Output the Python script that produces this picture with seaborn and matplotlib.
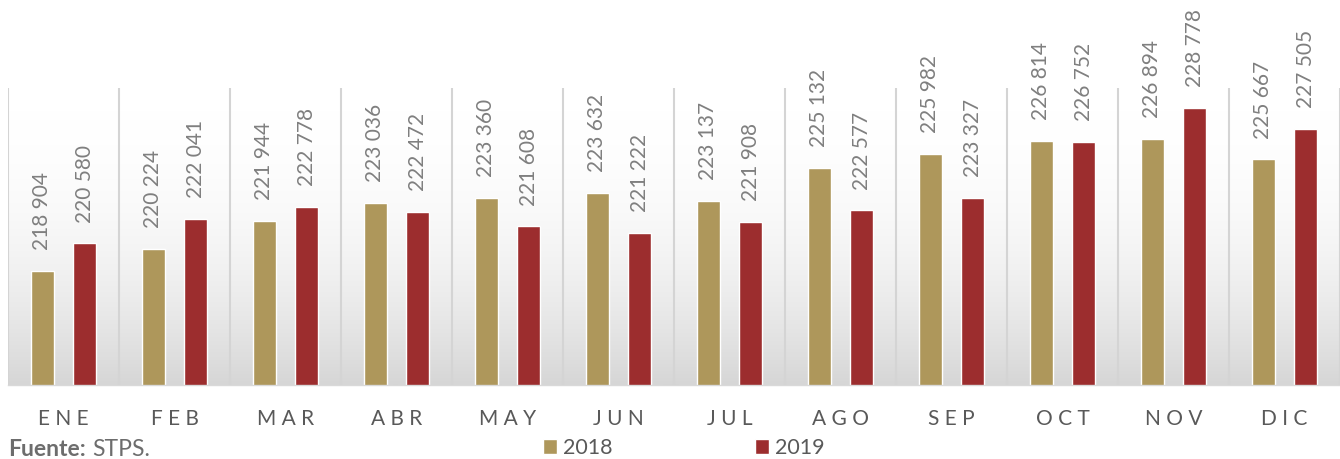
import numpy as np
import pandas as pd
import matplotlib
matplotlib.use("Agg")
import matplotlib.pyplot as plt
import seaborn as sns

months = ["ENE", "FEB", "MAR", "ABR", "MAY", "JUN", "JUL", "AGO", "SEP", "OCT", "NOV", "DIC"]
v2018 = [218904, 220224, 221944, 223036, 223360, 223632, 223137, 225132, 225982, 226814, 226894, 225667]
v2019 = [220580, 222041, 222778, 222472, 221608, 221222, 221908, 222577, 223327, 226752, 228778, 227505]
years = ["2018", "2019"]
colors = ["#AE975B", "#9C2D2E"]

df = pd.DataFrame({
    "mes": months * 2,
    "valor": v2018 + v2019,
    "anio": [years[0]] * 12 + [years[1]] * 12,
})

sns.set_theme(style="white")
plt.rcParams["font.family"] = ["Lato", "DejaVu Sans"]

fig = plt.figure(figsize=(13.4, 4.59), dpi=100)
ax = fig.add_axes([8 / 1340, 74 / 459, 1 - 8 / 1340, (385 - 88) / 459])

# gradient background
grad = np.linspace(0, 1, 256).reshape(-1, 1) ** 2.2
cmap = matplotlib.colors.LinearSegmentedColormap.from_list("g", ["#ffffff", "#d6d6d6"])
ax.imshow(grad, extent=[0, 1, 0, 1], transform=ax.transAxes, cmap=cmap,
          aspect="auto", zorder=0, origin="upper")

sns.barplot(data=df, x="mes", y="valor", hue="anio", palette=colors, ax=ax,
            width=0.77, gap=0.46, saturation=1, zorder=2, legend=True)

ax.set_ylim(212000, 230000)
ax.set_xlim(-0.5, 11.5)
ax.vlines(np.arange(-0.5, 12, 1), 212000, 230000, colors="#d4d4d4", lw=1.5, zorder=1)

for cont in ax.containers:
    for bar in cont:
        x = bar.get_x() + bar.get_width() / 2
        h = bar.get_height()
        ax.annotate(f"{int(round(h)):,}".replace(",", " "), (x, h), xytext=(0, 15),
                    textcoords="offset points", rotation=90, ha="center", va="bottom",
                    fontsize=15, color="#7f7f7f", annotation_clip=False)

ax.set_xticks(range(12))
ax.set_xticklabels([" ".join(m) for m in months], fontsize=15, color="#595959")
ax.tick_params(axis="x", length=0, pad=17.5)
ax.set_yticks([])
ax.set_xlabel("")
ax.set_ylabel("")
for s in ["top", "right", "left"]:
    ax.spines[s].set_visible(False)
ax.spines["bottom"].set_color("#d9d9d9")
ax.spines["bottom"].set_linewidth(1)

handles, labels = ax.get_legend_handles_labels()
ax.legend_.remove()
fig.legend(handles, labels, loc="center", bbox_to_anchor=(684 / 1340, 1 - 448 / 459),
           ncol=2, frameon=False, fontsize=15.5, labelcolor="#595959",
           handlelength=0.65, handleheight=0.65, handletextpad=0.3, columnspacing=6.6)

t1 = fig.text(8 / 1340, 1 - 449 / 459, "Fuente:", fontsize=16.5, fontweight="bold",
              color="#6d6d6d", va="center", ha="left")
fig.canvas.draw()
bb = t1.get_window_extent(renderer=fig.canvas.get_renderer())
fig.text((bb.x1 + 6) / 1340, 1 - 449 / 459, "STPS.", fontsize=16.5, color="#6d6d6d",
         va="center", ha="left")

fig.savefig("out.png", dpi=100)
